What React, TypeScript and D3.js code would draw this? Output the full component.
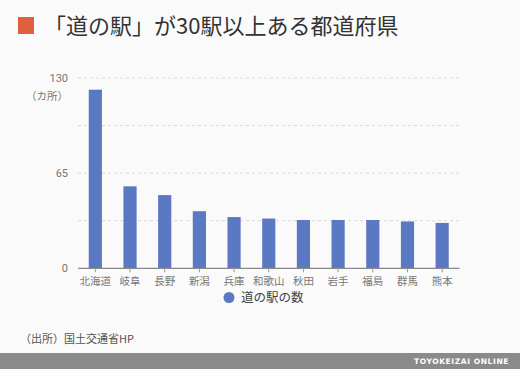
import React from "react";
import * as d3 from "d3";

const categories = ["北海道", "岐阜", "長野", "新潟", "兵庫", "和歌山", "秋田", "岩手", "福島", "群馬", "熊本"];
const values = [122, 56, 50, 39, 35, 34, 33, 33, 33, 32, 31];
const yTickLabels = [0, 65, 130];
const gridValues = [32.5, 65, 97.5, 130];

const W = 520, H = 369;
const font = "'Noto Sans CJK JP', 'Noto Sans', sans-serif";

export default function App() {
  const x = d3.scaleBand<string>().domain(categories).range([78, 459.5]).paddingInner(0.62).paddingOuter(0.31);
  const y = d3.scaleLinear().domain([0, 130]).range([268.3, 78]);
  return (
    <svg width={W} height={H} style={{ position: "absolute", left: 0, top: 0 }} fontFamily={font}>
      <rect x={0} y={0} width={W} height={H} fill="#fafafa" />
      <rect x={18} y={17} width={16} height={17} fill="#e0603c" />
      <text x={44} y={34} fontSize={22} fill="#333">「道の駅」が30駅以上ある都道府県</text>
      {gridValues.map((g) => (
        <line key={g} x1={78} x2={459.5} y1={y(g)} y2={y(g)} stroke="#d8d8d8" strokeDasharray="3,3" strokeWidth={1} />
      ))}
      {yTickLabels.map((t) => (
        <text key={t} x={68} y={y(t) + 4} fontSize={11} fill="#777" textAnchor="end" fontFamily="Roboto, sans-serif">{t}</text>
      ))}
      <text x={68} y={100} fontSize={10.5} fill="#777" textAnchor="end">（カ所）</text>
      {categories.map((c, i) => (
        <rect key={c} x={x(c)} y={y(values[i])} width={x.bandwidth()} height={y(0) - y(values[i])} fill="#5b78c3" />
      ))}
      <line x1={78} x2={459.5} y1={y(0)} y2={y(0)} stroke="#888" strokeWidth={1.2} />
      {categories.map((c) => {
        const cx = (x(c) as number) + x.bandwidth() / 2;
        return (
          <g key={c}>
            <line x1={cx} x2={cx} y1={y(0)} y2={y(0) + 4} stroke="#999" />
            <text x={cx} y={285} fontSize={10.5} fill="#777" textAnchor="middle">{c}</text>
          </g>
        );
      })}
      <circle cx={229} cy={297.5} r={5.5} fill="#5b78c3" />
      <text x={241} y={302} fontSize={12.5} fill="#444">道の駅の数</text>
      <text x={20} y={343} fontSize={11} fill="#555">（出所）国土交通省HP</text>
      <rect x={0} y={353} width={W} height={16} fill="#8a8a8a" />
      <text x={509} y={364} fontSize={7.5} fill="#fff" fontWeight="bold" textAnchor="end" fontFamily="'DejaVu Sans', sans-serif" letterSpacing={0.6}>TOYOKEIZAI ONLINE</text>
    </svg>
  );
}
